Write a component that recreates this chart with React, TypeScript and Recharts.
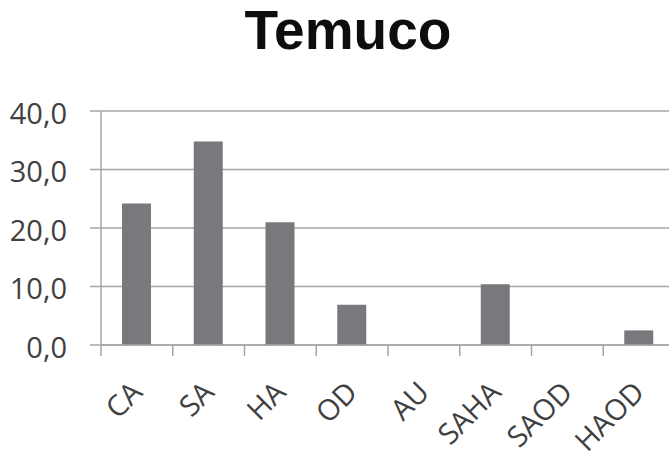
import React from "react";
import { BarChart, Bar, XAxis, YAxis, CartesianGrid } from "recharts";

const categories = ["CA", "SA", "HA", "OD", "AU", "SAHA", "SAOD", "HAOD"];
const values = [24.2, 34.8, 21.0, 6.9, 0, 10.4, 0, 2.5];
const yTicks = [0, 10, 20, 30, 40];

const data = categories.map((name, i) => ({ name, value: values[i] }));

const FONT = "'Open Sans', sans-serif";
const TITLE_FONT = "'Liberation Sans', Arial, sans-serif";
const GRID = "#a6a6a6";

const fmt = (v: number) => v.toFixed(1).replace(".", ",");

const YTick = (props: any) => {
  const { x, y, payload } = props;
  return (
    <text
      x={x - 23}
      y={y + 5}
      textAnchor="end"
      dominantBaseline="middle"
      fontFamily={FONT}
      fontSize={29}
      fill="#404040"
    >
      {fmt(payload.value)}
    </text>
  );
};

// category labels plus the Excel-style tick marks between bands
const XTick = (props: any) => {
  const { x, y, payload, index } = props;
  const half = payload.offset || 0;
  const ax = x + 7;
  const ay = y + 49;
  const last = index === categories.length - 1;
  return (
    <g>
      <line x1={x - half} y1={y} x2={x - half} y2={y + 11} stroke={GRID} strokeWidth={1.5} />
      {last && (
        <line x1={x + half} y1={y} x2={x + half} y2={y + 11} stroke={GRID} strokeWidth={1.5} />
      )}
      <text
        x={ax}
        y={ay}
        textAnchor="end"
        transform={`rotate(-45 ${ax} ${ay})`}
        fontFamily={FONT}
        fontSize={29}
        fill="#404040"
      >
        {payload.value}
      </text>
    </g>
  );
};

export default function App() {
  return (
    <div
      style={{
        position: "absolute",
        left: 0,
        top: 0,
        width: 669,
        height: 458,
        overflow: "hidden",
        background: "#fff",
      }}
    >
      <div
        style={{
          position: "absolute",
          left: 0,
          top: 0,
          width: 642,
          paddingLeft: 27,
          textAlign: "center",
          fontFamily: TITLE_FONT,
          fontWeight: 700,
          fontSize: 55,
          lineHeight: "60px",
          color: "#0d0d0d",
        }}
      >
        Temuco
      </div>
      <BarChart
        width={700}
        height={458}
        data={data}
        margin={{ top: 111, right: 25, bottom: 10, left: 0 }}
      >
        <CartesianGrid vertical={false} stroke={GRID} strokeWidth={1.5} />
        <XAxis
          dataKey="name"
          height={103}
          tickLine={false}
          axisLine={{ stroke: GRID, strokeWidth: 1.5 }}
          tickSize={0}
          tickMargin={0}
          interval={0}
          tick={<XTick />}
        />
        <YAxis
          width={101}
          domain={[0, 40]}
          ticks={yTicks}
          tickSize={11}
          tickMargin={0}
          axisLine={{ stroke: GRID, strokeWidth: 1.5 }}
          tickLine={{ stroke: GRID, strokeWidth: 1.5 }}
          tick={<YTick />}
        />
        <Bar
          dataKey="value"
          fill="#78797c"
          barSize={29}
          isAnimationActive={false}
        />
      </BarChart>
    </div>
  );
}
